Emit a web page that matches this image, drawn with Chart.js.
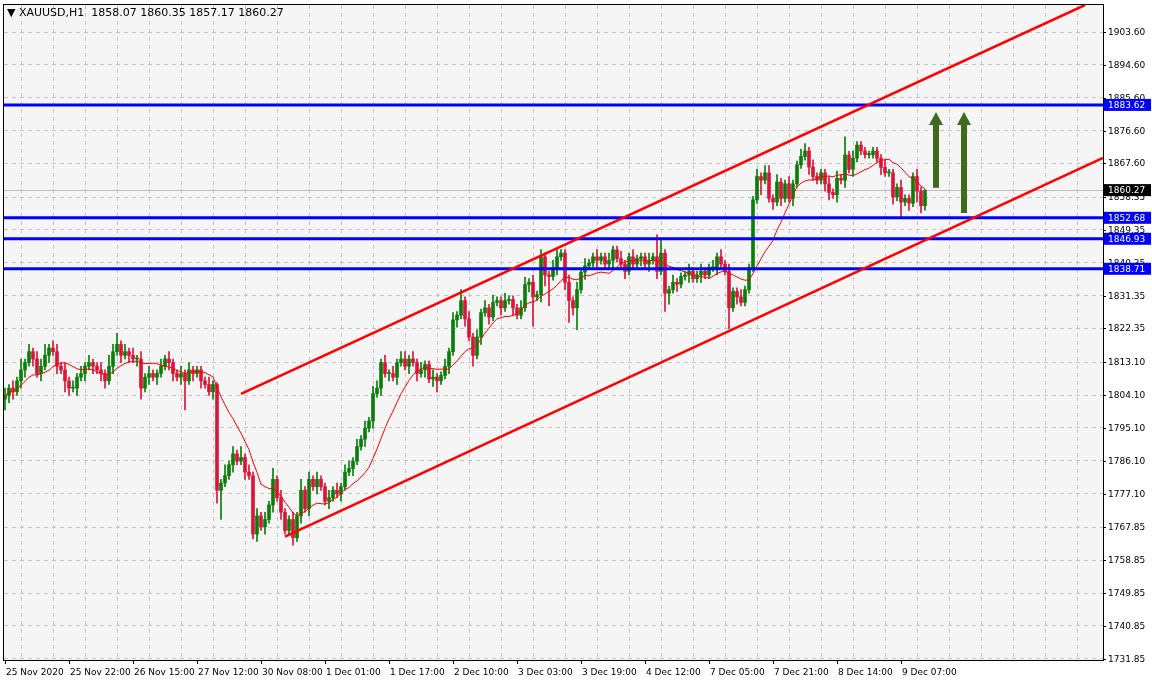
<!DOCTYPE html>
<html><head><meta charset="utf-8">
<script src="https://cdn.jsdelivr.net/npm/chart.js@4.4.0/dist/chart.umd.min.js"></script>
<style>html,body{margin:0;padding:0;background:#fff}#wrap{width:1152px;height:685px;position:relative}</style>
</head><body><div id="wrap"><canvas id="c" width="1152" height="685"></canvas></div>
<script>
const closes=[1804,1806,1805,1808,1811,1813,1816,1814,1810,1812,
1815,1817,1816,1812,1811,1808,1806,1806,1809,1810,
1812,1813,1812,1811,1810,1808,1812,1816,1818,1815,
1816,1815,1814,1814,1806,1809,1810,1809,1810,1812,
1814,1813,1810,1809,1810,1808,1811,1810,1811,1808,
1807,1805,1807,1778,1780,1782,1785,1788,1786,1787,
1783,1782,1766,1771,1768,1770,1774,1781,1776,1772,
1767,1770,1765,1771,1778,1773,1781,1779,1781,1779,
1775,1776,1778,1777,1779,1783,1784,1786,1790,1792,
1795,1797,1804.5,1806,1813,1810,1810,1809,1813,1814,
1812,1814,1813,1810,1811,1812.5,1808.5,1809,1808,1809.5,
1812,1816,1824.7,1826,1830,1825,1820,1815,1820,1826.7,
1828,1825.5,1829.5,1830,1828,1830,1830.3,1828,1826,1828,
1834.4,1835,1831,1831.6,1842,1837,1836.6,1839,1842,1843,
1835,1830,1828,1833,1837.8,1839.5,1840.3,1842,1841,1842,
1840,1841,1843.9,1841.5,1840,1838,1842,1840,1841.5,1842,
1840,1841,1842,1838,1843,1832,1833,1835,1834.5,1836.6,
1837,1838,1836,1837,1838,1837,1839,1839,1842,1840,
1838,1828,1832.5,1831,1829.5,1833,1839,1857.6,1864,1863,
1865,1858,1857,1862.5,1858,1862,1858,1862,1867.2,1869.5,
1871,1866.6,1864,1863,1865,1862,1859.6,1859,1863.5,1863,
1869.9,1866,1869,1872.6,1871,1870,1870,1871,1869,1866.5,
1865,1865,1858.4,1861,1857,1858,1856.7,1864,1860,1856,
1860.27];
const wickUp=[2,1,2,1,3,1,2,1,2,2, 3,1,2,2,1,2,1,2,1,2, 1,2,1,1,2,1,3,2,3,1, 2,1,2,1,2,1,2,1,1,2,
1,2,1,1,2,1,2,1,1,1, 1,2,1,0.5,1,3,1,2,1,3, 1,2,1,2,1,2,1,3,1,2, 1,1,2,1,3,1,2,1,2,1,
1,2,1,2,1,2,2,1,2,1, 2,1,2,2,1,2,1,2,1,2, 2,1,2,1,2,1,1,2,1,1, 2,1,2,1,3,1,2,1,2,1,
2,1,2,1,1,2,1,1,1,2, 2,1,2,1,2,1,1,2,2,1, 1,2,1,2,1,2,1,1,2,1, 1,2,1,1,2,1,1,2,1,1,
1,2,1,6,4,1,1,2,1,1, 1,2,1,1,2,1,1,2,1,2, 1,2,1,1,2,1,1,1,2,1, 2,2,1,2,1,1,2,1,1,2,
2,1,2,1,1,1,2,1,2,1, 5,1,2,1,1,1,1,1,1,1, 2,1,1,1,2,1,1,1,2,1, 0.08];
const wickDn=[3,2,2,1,2,2,1,2,1,2, 1,2,1,2,1,3,2,1,2,1, 2,1,2,1,2,2,1,2,1,2, 1,2,1,2,3,1,2,1,2,1,
1,2,2,1,2,8,1,2,1,2, 1,1,2,3.5,8,1,1,2,1,1, 2,1,1.3,2,1,2,1,2,1,2, 1,1,2,1,2,1,2,1,2,1,
1,2,1,1,2,1,1,2,1,1, 2,1,2,1,2,1,2,1,2,1, 1,2,1,2,1,2,1,2,3,1, 1,2,1,2,1,2,1,3,1,2,
1,2,1,1,2,1,1,2,1,1, 1,2,8,1,2,3,8,1,2,1, 2,6,2,6,1,2,1,1,2,1, 1,1,2,1,1,2,1,1,1,2,
1,2,1,2,1,5,3,1,2,1, 1,2,1,1,2,1,1,1,2,1, 1,5.7,1,2,1,1,1,1,1,4, 1,1,2,1,2,1,1,2,1,1,
1,2,1,1,1,2,2,1,2,1, 2,1,2,1,1,1,1,1,1,2, 1,1,2,1,4,1,2,1,3,2, 1.2];
const firstOpen=1803;
const dateLabels=["25 Nov 2020","25 Nov 22:00","26 Nov 15:00","27 Nov 12:00","30 Nov 08:00","1 Dec 01:00","1 Dec 17:00","2 Dec 10:00","3 Dec 03:00","3 Dec 19:00","4 Dec 12:00","7 Dec 05:00","7 Dec 21:00","8 Dec 14:00","9 Dec 07:00"];
const priceTicks=[1903.60,1894.60,1885.60,1876.60,1867.60,1858.35,1849.35,1840.35,1831.35,1822.35,1813.10,1804.10,1795.10,1786.10,1777.10,1767.85,1758.85,1749.85,1740.85,1731.85];
const levels=[1883.62,1852.68,1846.93,1838.71];
const lastPrice=1860.27;
const channelUpper=[[59,1804.4],[270,1911]];
const channelLower=[[70,1765.3],[274.5,1869.1]];
const arrowsUp=[[232.75,1860.9,1881.7],[239.75,1854,1881.7]];
const maPeriod=12;

const opens=closes.map((c,i)=>i===0?firstOpen:closes[i-1]);
const bodies=closes.map((c,i)=>({x:i,y:[opens[i],c]}));
const wicks=closes.map((c,i)=>({x:i,y:[Math.min(opens[i],c)-wickDn[i],Math.max(opens[i],c)+wickUp[i]]}));
const colors=closes.map((c,i)=>c>=opens[i]?'#0a7d0a':'#dc143c');
const ma=closes.map((c,i)=>{const s=closes.slice(Math.max(0,i-maPeriod+1),i+1);return {x:i,y:s.reduce((a,b)=>a+b,0)/s.length};});

const overlay={id:'ov',
beforeDatasetsDraw(ch){const ctx=ch.ctx,a=ch.chartArea,x=ch.scales.x,y=ch.scales.y;
 ctx.save();ctx.strokeStyle='#c0c0c0';ctx.lineWidth=1;ctx.beginPath();ctx.moveTo(a.left,Math.round(y.getPixelForValue(lastPrice))+0.5);ctx.lineTo(a.right,Math.round(y.getPixelForValue(lastPrice))+0.5);ctx.stroke();ctx.restore();},
afterDatasetsDraw(ch){const ctx=ch.ctx,a=ch.chartArea,x=ch.scales.x,y=ch.scales.y;
 ctx.save();ctx.beginPath();ctx.rect(a.left,a.top,a.right-a.left,a.bottom-a.top);ctx.clip();
 ctx.strokeStyle='#0000ff';ctx.lineWidth=3;
 levels.forEach(l=>{const py=y.getPixelForValue(l);ctx.beginPath();ctx.moveTo(a.left,py);ctx.lineTo(a.right,py);ctx.stroke();});
 ctx.strokeStyle='#ff0000';ctx.lineWidth=2.5;
 [channelUpper,channelLower].forEach(L=>{ctx.beginPath();ctx.moveTo(x.getPixelForValue(L[0][0]),y.getPixelForValue(L[0][1]));ctx.lineTo(x.getPixelForValue(L[1][0]),y.getPixelForValue(L[1][1]));ctx.stroke();});
 ctx.fillStyle='#3f6a1e';
 arrowsUp.forEach(A=>{const px=x.getPixelForValue(A[0]),y0=y.getPixelForValue(A[1]),y1=y.getPixelForValue(A[2]);
  ctx.fillRect(px-3,y1+12,6,y0-y1-12);ctx.beginPath();ctx.moveTo(px-7,y1+13);ctx.lineTo(px,y1);ctx.lineTo(px+7,y1+13);ctx.closePath();ctx.fill();});
 ctx.restore();
 ctx.save();ctx.strokeStyle='#000';ctx.lineWidth=1;ctx.strokeRect(a.left-0.5,a.top-0.5,a.right-a.left+1,a.bottom-a.top+1);
 ctx.font='9px "DejaVu Sans", sans-serif';ctx.textBaseline='middle';ctx.fillStyle='#000';
 priceTicks.forEach(p=>{const py=Math.round(y.getPixelForValue(p))+0.5;ctx.beginPath();ctx.moveTo(a.right,py);ctx.lineTo(a.right+3,py);ctx.stroke();ctx.fillText(p.toFixed(2),a.right+5,py);});
 const box=(p,bg)=>{const py=y.getPixelForValue(p);ctx.fillStyle=bg;ctx.fillRect(a.right+1,py-6,47,12);ctx.fillStyle='#fff';ctx.fillText(p.toFixed(2),a.right+5,py+0.5);};
 levels.forEach(l=>box(l,'#0000ff'));box(lastPrice,'#000');
 ctx.fillStyle='#000';ctx.textBaseline='alphabetic';
 dateLabels.forEach((t,k)=>{const px=x.getPixelForValue(k*16);ctx.beginPath();ctx.moveTo(px+0.5,a.bottom);ctx.lineTo(px+0.5,a.bottom+4);ctx.stroke();ctx.fillText(t,px+1,a.bottom+15);});
 ctx.font='11px "DejaVu Sans", sans-serif';ctx.fillText('\u25BC XAUUSD,H1  1858.07 1860.35 1857.17 1860.27',7,16);
 ctx.restore();}};

Chart.defaults.font.family='"DejaVu Sans", sans-serif';
new Chart(document.getElementById('c'),{type:'bar',
data:{datasets:[
 {type:'line',data:ma,borderColor:'#ff0000',borderWidth:1,pointRadius:0,order:0},
 {data:wicks,backgroundColor:colors,barThickness:1,grouped:false,order:2},
 {data:bodies,backgroundColor:colors,barThickness:3,minBarLength:1,grouped:false,order:1}]},
options:{responsive:false,animation:false,events:[],
 layout:{padding:{left:4,right:49,top:5,bottom:25}},
 plugins:{legend:{display:false},tooltip:{enabled:false}},
 scales:{
  x:{type:'linear',min:-0.25,max:274.5,offset:false,ticks:{display:false},border:{display:false,dash:[4,4]},
     grid:{color:'#c4c4c4',drawTicks:false,lineWidth:1},
     afterBuildTicks(s){const t=[];for(let v=8;v<274;v+=8)t.push({value:v});s.ticks=t;}},
  y:{position:'right',min:1731.5,max:1911,ticks:{display:false},border:{display:false,dash:[4,4]},
     grid:{color:'#c4c4c4',drawTicks:false},
     afterBuildTicks(s){s.ticks=priceTicks.map(v=>({value:v}));}}}},
plugins:[{id:'bg',beforeDraw(ch){const c=ch.ctx,a=ch.chartArea;c.save();c.fillStyle='#f5f5f5';c.fillRect(a.left,a.top,a.right-a.left,a.bottom-a.top);c.restore();}},overlay]});
</script></body></html>
